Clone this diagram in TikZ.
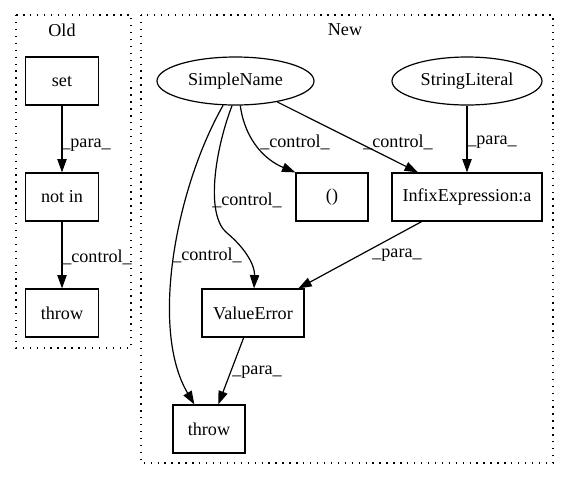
\documentclass[tikz,border=0pt]{standalone}
\usepackage{fontspec}
\setmainfont{Liberation Serif}
\usetikzlibrary{arrows.meta,shapes.geometric}

\begin{document}
\begin{tikzpicture}
            [x=0.75pt, y=-0.75pt, font=\fontsize{13.6}{16}\selectfont,
            box/.style={draw, line width=0.9pt, rectangle, inner sep=0pt, minimum height=36pt},
            oval/.style={draw, line width=0.9pt, ellipse, inner sep=0pt, minimum height=36pt},
            edge/.style={line width=0.9pt, -{Triangle[length=10pt,width=7pt]}},
            lbl/.style={inner sep=0pt},
            cluster/.style={line width=1pt, dash pattern=on 1pt off 4.2pt}]

            \useasboundingbox (0,0) rectangle (568,480);

            % clusters
            \draw[cluster] (16,15) rectangle (131,348);
            \draw[cluster] (141,15) rectangle (553,463);
            \node[lbl] (old) at (62,30) {Old};
            \node[lbl] (new) at (345,30) {New};

            % old graph
            \node[box, minimum width=54.75pt] (set) at (62,81) {set};
            \node[box, minimum width=54.75pt] (notin) at (62,197) {not in};
            \node[box, minimum width=54.75pt] (thrO) at (62,313) {throw};

            \draw[edge] (set) -- (notin);
            \draw[edge] (notin) -- (thrO);
            \node[lbl] (l1) at (86,145) {\_para\_};
            \node[lbl] (l2) at (97,257) {\_control\_};

            % new graph
            \node[oval, minimum width=117.75pt] (sn) at (235.5,81) {SimpleName};
            \node[oval, minimum width=112.5pt] (sl) at (467,81) {StringLiteral};
            \node[box, minimum width=54pt] (ep) at (332,197) {()};
            \node[box, minimum width=112.5pt] (ie) at (467,197) {InfixExpression:a};
            \node[box, minimum width=76.5pt] (ve) at (253,313) {ValueError};
            \node[box, minimum width=54pt] (thrN) at (209,429) {throw};

            \draw[edge] (sn.243) .. controls (175,190) and (150,330) .. (thrN);
            \draw[edge] (sn.262) .. controls (215,150) and (205,215) .. (227,233)
                .. controls (245,248) and (255,265) .. (ve);
            \draw[edge] (sn.281) .. controls (245,140) and (265,160) .. (ep.north west);
            \draw[edge] (sn) -- (ie);
            \draw[edge] (sl) -- (ie);
            \draw[edge] (ie) -- (ve);
            \draw[edge] (ve) -- (thrN);

            \node[lbl] (l3) at (207,255) {\_control\_};
            \node[lbl] (l4) at (247,200) {\_control\_};
            \node[lbl] (l5) at (295,142) {\_control\_};
            \node[lbl] (l6) at (398,142) {\_control\_};
            \node[lbl] (l7) at (492,142) {\_para\_};
            \node[lbl] (l8) at (397,255) {\_para\_};
            \node[lbl] (l9) at (257,372) {\_para\_};

        \end{tikzpicture}
\end{document}
